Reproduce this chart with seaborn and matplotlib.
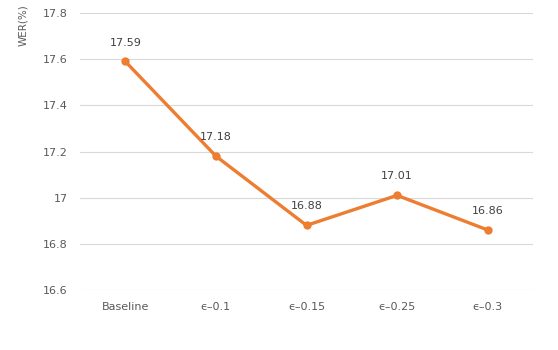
import matplotlib
matplotlib.use("Agg")
import matplotlib.pyplot as plt
import seaborn as sns
import pandas as pd

categories = ["Baseline", "\u03f5\u20130.1", "\u03f5\u20130.15", "\u03f5\u20130.25", "\u03f5\u20130.3"]
wer = [17.59, 17.18, 16.88, 17.01, 16.86]
yticks = [16.6, 16.8, 17.0, 17.2, 17.4, 17.6, 17.8]
ytick_labels = ["16.6", "16.8", "17", "17.2", "17.4", "17.6", "17.8"]

sns.set_theme(style="white")
plt.rcParams['font.family'] = ['DejaVu Sans']

df = pd.DataFrame({"cat": categories, "wer": wer, "x": range(len(categories))})

fig = plt.figure(figsize=(5.58, 3.5), dpi=100)
ax = fig.add_axes([80/558, 1-290/350, (533-80)/558, (290-13)/350])
color = "#ED7D31"
sns.lineplot(data=df, x="x", y="wer", ax=ax, color=color, marker="o",
             markersize=6, markeredgewidth=0, linewidth=2.4)
ax.set_xlim(-0.5, len(categories)-0.5)
ax.set_ylim(16.6, 17.8)
ax.set_yticks(yticks)
ax.set_yticklabels(ytick_labels)
ax.set_xticks(range(len(categories)))
ax.set_xticklabels(categories)
ax.tick_params(axis='both', length=0, labelsize=8, labelcolor="#595959")
ax.tick_params(axis='y', pad=9)
ax.tick_params(axis='x', pad=9)
ax.yaxis.grid(True, color="#D9D9D9", linewidth=0.8)
ax.set_axisbelow(True)
for s in ax.spines.values():
    s.set_visible(False)
ax.set_xlabel("")
ax.set_ylabel("")
for i, v in enumerate(wer):
    ax.annotate(f"{v:.2f}", (i, v), xytext=(0, 10), textcoords="offset points",
                ha="center", va="bottom", fontsize=8, color="#404040")
fig.text(23/558, 1-25/350, "WER(%)", rotation=90, ha="center", va="center",
         fontsize=7.5, color="#595959")
fig.savefig("out.png", dpi=100)
